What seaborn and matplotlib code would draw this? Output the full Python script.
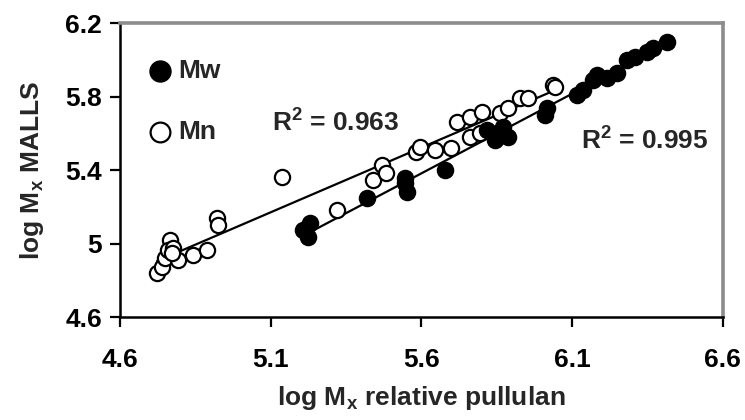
import matplotlib
matplotlib.use("Agg")
import matplotlib.pyplot as plt
import seaborn as sns
import numpy as np
import pandas as pd

# Data
mn_x = [4.723, 4.739, 4.749, 4.766, 4.759, 4.776, 4.792, 4.772, 4.842, 4.889,
        4.922, 4.925, 5.137, 5.319, 5.439, 5.468, 5.484, 5.584, 5.595, 5.645,
        5.700, 5.717, 5.761, 5.800, 5.761, 5.794, 5.860, 5.887, 5.927, 5.953,
        6.036, 6.045]
mn_y = [4.839, 4.872, 4.921, 5.019, 4.965, 4.975, 4.910, 4.948, 4.937, 4.965,
        5.139, 5.100, 5.362, 5.182, 5.345, 5.427, 5.384, 5.500, 5.527, 5.509,
        5.518, 5.663, 5.690, 5.717, 5.581, 5.600, 5.710, 5.737, 5.790, 5.790,
        5.863, 5.853]

mw_x = [5.207, 5.224, 5.230, 5.419, 5.545, 5.552, 5.545, 5.678, 5.817, 5.844,
        5.870, 5.887, 6.010, 6.016, 6.116, 6.136, 6.169, 6.182, 6.215, 6.248,
        6.281, 6.308, 6.348, 6.368, 6.414]
mw_y = [5.073, 5.035, 5.111, 5.248, 5.329, 5.280, 5.356, 5.400, 5.618, 5.563,
        5.634, 5.580, 5.700, 5.737, 5.808, 5.835, 5.890, 5.917, 5.900, 5.928,
        5.999, 6.015, 6.042, 6.064, 6.097]

x_ticks = [4.6, 5.1, 5.6, 6.1, 6.6]
x_tick_labels = ["4.6", "5.1", "5.6", "6.1", "6.6"]
y_ticks = [4.6, 5.0, 5.4, 5.8, 6.2]
y_tick_labels = ["4.6", "5", "5.4", "5.8", "6.2"]
r2_mn = "0.963"
r2_mw = "0.995"

sns.set_style("ticks")
plt.rcParams['font.family'] = ['Liberation Sans', 'DejaVu Sans']
plt.rcParams['font.weight'] = 'bold'
plt.rcParams['mathtext.fontset'] = 'custom'
plt.rcParams['mathtext.rm'] = 'Liberation Sans:bold'
plt.rcParams['mathtext.bf'] = 'Liberation Sans:bold'
plt.rcParams['mathtext.default'] = 'bf'

FS = 19

mn_df = pd.DataFrame({"x": mn_x, "y": mn_y})
mw_df = pd.DataFrame({"x": mw_x, "y": mw_y})

fig = plt.figure(figsize=(7.45, 4.2), dpi=100)
ax = fig.add_axes([0.161, 0.245, 0.809, 0.700])

sns.regplot(data=mn_df, x="x", y="y", scatter=False, ci=None, truncate=True,
            ax=ax, line_kws=dict(color="black", lw=1.6, zorder=1))
sns.regplot(data=mw_df, x="x", y="y", scatter=False, ci=None, truncate=True,
            ax=ax, line_kws=dict(color="black", lw=1.6, zorder=1))

sns.scatterplot(data=mw_df, x="x", y="y", ax=ax, s=135, color="black",
                edgecolor="black", linewidth=1.0, marker="o", zorder=3,
                label="Mw")
sns.scatterplot(data=mn_df, x="x", y="y", ax=ax, s=120, facecolor="white",
                edgecolor="black", linewidth=1.6, marker="o", zorder=2,
                label="Mn")

ax.set_xlim(4.6, 6.6)
ax.set_ylim(4.6, 6.2)
ax.set_xticks(x_ticks)
ax.set_xticklabels(x_tick_labels)
ax.set_yticks(y_ticks)
ax.set_yticklabels(y_tick_labels)
ax.tick_params(axis="both", direction="out", length=7, width=1.6,
               labelsize=FS, pad=15, colors="black")
ax.tick_params(axis="y", pad=6)
for lab in ax.get_xticklabels() + ax.get_yticklabels():
    lab.set_fontweight("bold")

for side in ["left", "bottom"]:
    ax.spines[side].set_color("black")
    ax.spines[side].set_linewidth(1.8)
for side in ["top", "right"]:
    ax.spines[side].set_visible(True)
    ax.spines[side].set_color("#8c8c8c")
    ax.spines[side].set_linewidth(2.6)

ax.set_xlabel("log M$_\\mathbf{x}$ relative pullulan", fontsize=FS,
              fontweight="bold", labelpad=9)
ax.set_ylabel("log M$_\\mathbf{x}$ MALLS", fontsize=FS, fontweight="bold",
              labelpad=14)

ax.text(0.253, 0.66, "R$^\\mathbf{2}$ = " + r2_mn, transform=ax.transAxes,
        fontsize=FS, fontweight="bold", va="center", ha="left")
ax.text(0.765, 0.60, "R$^\\mathbf{2}$ = " + r2_mw, transform=ax.transAxes,
        fontsize=FS, fontweight="bold", va="center", ha="left")

leg = ax.legend(loc="upper left", bbox_to_anchor=(0.005, 0.94), frameon=False,
                fontsize=FS, handletextpad=0.0, labelspacing=1.4,
                borderaxespad=0.3, markerscale=1.3, handlelength=1.4)
for t in leg.get_texts():
    t.set_fontweight("bold")

fig.savefig("out.png", dpi=100)
